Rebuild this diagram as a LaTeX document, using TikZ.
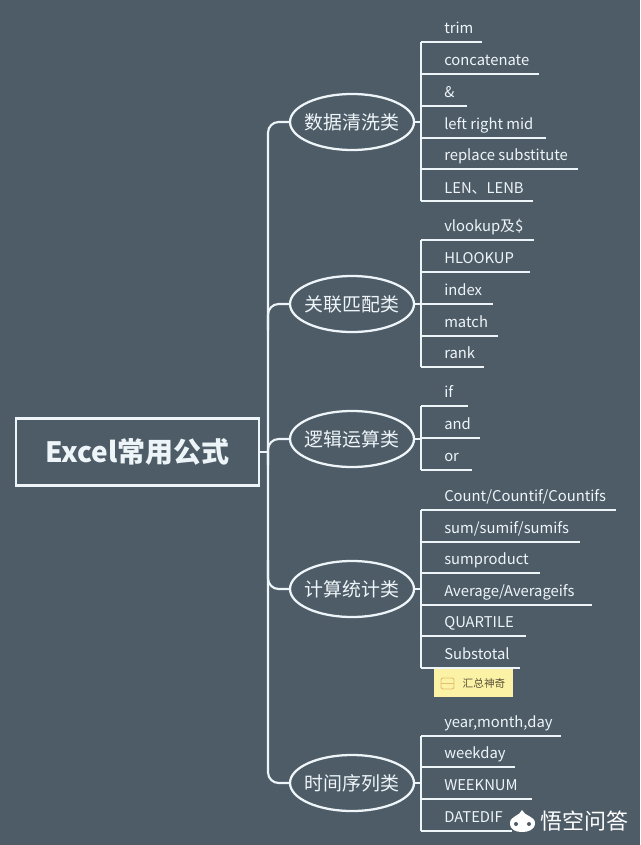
\documentclass[tikz,border=0pt]{standalone}
\usepackage{fontspec}
\setmainfont{Noto Sans CJK SC}
\usetikzlibrary{shapes.geometric}
\definecolor{slatebg}{HTML}{4E5C68}
\definecolor{chalk}{HTML}{EEF5F8}
\definecolor{noteyellow}{HTML}{FBF2A6}
\definecolor{noteicon}{HTML}{E6BE6E}
\definecolor{notetext}{HTML}{5A5238}
\newcommand{\cattext}[1]{\makebox[0pt]{#1}}
\begin{document}
\begin{tikzpicture}[
  x=0.75pt, y=-0.75pt,
  branch/.style={draw=chalk, line width=1.6pt},
  uline/.style={draw=chalk, line width=1.9pt},
  rootbox/.style={draw=chalk, line width=1.9pt, minimum width=182.5pt, minimum height=50pt, text=chalk, font=\fontsize{21}{24}\selectfont\bfseries},
  cat/.style={draw=chalk, line width=1.7pt, ellipse, minimum width=93pt, minimum height=42pt, inner sep=0pt, text=chalk, font=\fontsize{14.2}{17}\selectfont},
  item/.style={anchor=base west, inner sep=0pt, text=chalk, font=\fontsize{11.1}{13}\selectfont},
]
\fill [slatebg] (0,0) rectangle (640,845);
\node [rootbox] (root) at (137.5,452) {Excel常用公式};
\node [cat] (c1) at (352,122) {\cattext{数据清洗类}};
\node [cat] (c2) at (352,304) {\cattext{关联匹配类}};
\node [cat] (c3) at (352,439) {\cattext{逻辑运算类}};
\node [cat] (c4) at (352,589) {\cattext{计算统计类}};
\node [cat] (c5) at (352,783) {\cattext{时间序列类}};
% trunk
\coordinate (tr1) at (268,122);
\coordinate (tr2) at (268,304);
\coordinate (tr3) at (268,439);
\coordinate (tr4) at (268,589);
\coordinate (tr5) at (268,783);
\coordinate (trr) at (268,452);
\draw [branch, rounded corners=8] (c1.west) -- (tr1) -- (tr5) -- (c5.west);
\draw [branch, rounded corners=8] (268,330) -- (tr2) -- (c2.west);
\draw [branch, rounded corners=8] (268,465) -- (tr3) -- (c3.west);
\draw [branch, rounded corners=8] (268,560) -- (tr4) -- (c4.west);
\draw [branch] (root.east) -- (trr);
% first group
\foreach \n/\y/\xe/\txt in {1/42/482/trim, 2/74/539/concatenate, 3/106/467/\&, 4/138/546/left right mid, 5/169/578/replace substitute, 6/201/533/LEN、LENB} {
  \node [item] (a\n) at (444,\y-8) {\txt};
  \coordinate (as\n) at (421,\y);
  \coordinate (ae\n) at (\xe,\y);
  \draw [uline] (as\n) -- (ae\n);
}
\draw [uline] (as1) -- (as6);
\draw [branch] (c1.east) -- (421,122);
% second group
\foreach \n/\y/\xe/\txt in {1/240/534/vlookup及\$, 2/272/530/HLOOKUP, 3/304/493/index, 4/336/498/match, 5/367/484/rank} {
  \node [item] (b\n) at (444,\y-9) {\txt};
  \coordinate (bs\n) at (421,\y);
  \coordinate (be\n) at (\xe,\y);
  \draw [uline] (bs\n) -- (be\n);
}
\draw [uline] (bs1) -- (bs5);
\draw [branch] (c2.east) -- (421,304);
% third group
\foreach \n/\y/\xe/\txt in {1/406/468/if, 2/438/480/and, 3/470/472/or} {
  \node [item] (d\n) at (444,\y-9) {\txt};
  \coordinate (ds\n) at (421,\y);
  \coordinate (de\n) at (\xe,\y);
  \draw [uline] (ds\n) -- (de\n);
}
\draw [uline] (ds1) -- (ds3);
\draw [branch] (c3.east) -- (421,439);
% fourth group
\foreach \n/\y/\xe/\txt in {1/510/616/{Count/Countif/Countifs}, 2/542/580/{sum/sumif/sumifs}, 3/573/540/sumproduct, 4/605/592/{Average/Averageifs}, 5/636/526/QUARTILE, 6/668/520/Substotal} {
  \node [item] (f\n) at (444,\y-9) {\txt};
  \coordinate (fs\n) at (421,\y);
  \coordinate (fe\n) at (\xe,\y);
  \draw [uline] (fs\n) -- (fe\n);
}
\draw [uline] (fs1) -- (fs6);
\draw [branch] (c4.east) -- (421,589);
% fifth group
\foreach \n/\y/\xe/\txt in {1/736/561/{year,month,day}, 2/767/515/weekday, 3/799/532/WEEKNUM, 4/831/512/DATEDIF} {
  \node [item] (g\n) at (444,\y-9) {\txt};
  \coordinate (gs\n) at (421,\y);
  \coordinate (ge\n) at (\xe,\y);
  \draw [uline] (gs\n) -- (ge\n);
}
\draw [uline] (gs1) -- (gs4);
\draw [branch] (c5.east) -- (421,783);
% note
\node [fill=noteyellow, minimum width=59.5pt, minimum height=21pt, inner sep=0pt] (note) at (473.5,683) {};
\draw [noteicon, line width=0.7pt, rounded corners=1.5] (441,678) rectangle (454,689);
\draw [noteicon, line width=0.7pt] (441,683.5) -- (454,683.5);
\node [text=notetext, font=\fontsize{8}{10}\selectfont, inner sep=0pt] (notetxt) at (484,683) {汇总神奇};
% watermark
\fill [white] (522,810) .. controls (524,816) and (535,816) .. (535,823) .. controls (535,830) and (528,832) .. (522,832) .. controls (516,832) and (510,830) .. (510,823) .. controls (510,816) and (520,816) .. (522,810);
\fill [slatebg] (516,824) circle [radius=2];
\fill [slatebg] (529,824) circle [radius=2];
\node [text=white, font=\fontsize{16.5}{18}\selectfont, inner sep=0pt] (mark) at (584.5,821) {悟空问答};
\end{tikzpicture}
\end{document}
